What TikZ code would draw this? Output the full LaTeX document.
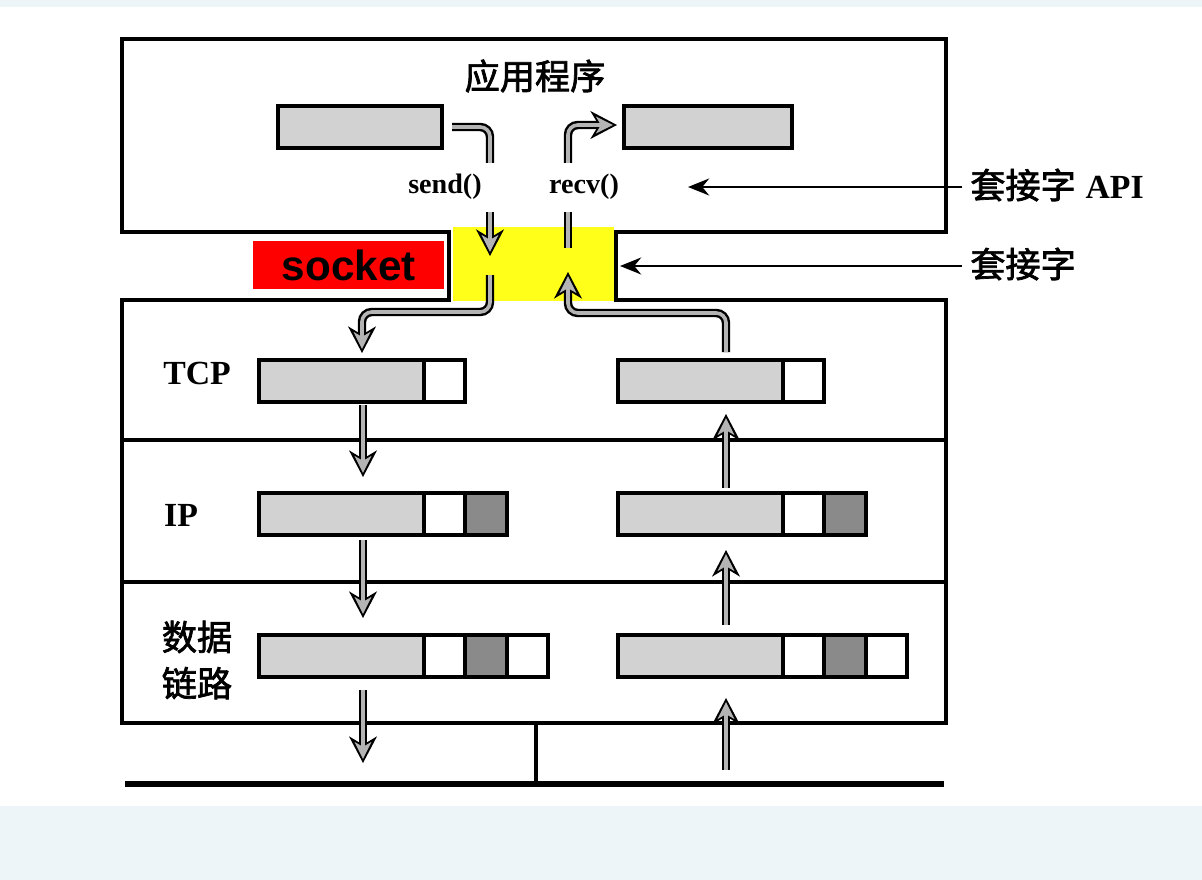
\documentclass[tikz,border=0pt]{standalone}
\usepackage{fontspec}
\setmainfont{Liberation Serif}
\newfontfamily\cjk[FakeBold=2]{Noto Sans CJK SC}
\newfontfamily\arialf{Liberation Sans}
\usetikzlibrary{arrows.meta,calc}
\definecolor{bgblue}{HTML}{EEF5F9}
\definecolor{pktgray}{HTML}{D2D2D2}
\definecolor{pktdark}{HTML}{8A8A8A}
\definecolor{shaftgray}{HTML}{B4B4B4}
\definecolor{sockyellow}{HTML}{FFFF1A}
\definecolor{sockred}{HTML}{FF0000}
\newcommand{\pxu}{0.025cm}
\begin{document}
\begin{tikzpicture}[x=0.025cm,y=-0.025cm,
  wall/.style={line width=2.8pt, line join=miter},
  cell/.style={draw, line width=2.2pt, anchor=north west, inner sep=0pt, outer sep=0pt, minimum height=42*\pxu},
  gcell/.style={cell, fill=pktgray, minimum width=165*\pxu},
  wcell/.style={cell, fill=white, minimum width=41*\pxu},
  dcell/.style={cell, fill=pktdark, minimum width=42*\pxu},
  hollow/.style={draw=shaftgray, line width=2.6pt, rounded corners=7pt,
    preaction={draw=black, line width=6pt}},
  harrow/.style={draw=shaftgray, line width=2.6pt, rounded corners=7pt,
    -{Stealth[length=12pt,width=12pt,inset=3.5pt,line width=0pt]}, shorten >=3pt,
    preaction={draw=black, line width=6pt,
      -{Stealth[length=19pt,width=20pt,inset=6pt,line width=0pt]}, shorten >=0pt}},
  ptr/.style={line width=2pt, -{Stealth[length=15pt,width=12pt]}},
  lbl/.style={font=\bfseries\fontsize{24}{28}\selectfont, inner sep=0pt},
  fnlbl/.style={font=\bfseries\fontsize{20}{24}\selectfont, inner sep=0pt},
  cjklbl/.style={font=\cjk\fontsize{25}{33}\selectfont, align=center, inner sep=0pt},
]
\useasboundingbox (0,0) rectangle (1202,880);
\fill[bgblue] (0,0) rectangle (1202,880);
\fill[white] (0,7) rectangle (1202,806);

% socket channel
\fill[sockyellow] (453,227) rectangle (614,301);
\node[fill=sockred, minimum width=191*\pxu, minimum height=48*\pxu, anchor=north west, inner sep=0pt,
  font=\arialf\bfseries\fontsize{30}{34}\selectfont] (socketlbl) at (253,241) {socket};

% outline of the application box, socket channel and protocol stack
\draw[wall] (449,232) -- (122,232) -- (122,39) -- (946,39) -- (946,232) -- (616,232)
  -- (616,300) -- (946,300) -- (946,723) -- (122,723) -- (122,300) -- (449,300) -- cycle;
\draw[wall] (122,440) -- (946,440);
\draw[wall] (122,582) -- (946,582);

% network
\draw[line width=3.6pt] (125,784) -- (944,784);
\draw[line width=2.2pt] (536,723) -- (536,784);

% application buffers
\node[cell, fill=pktgray, minimum width=164*\pxu] (appL) at (278,106) {};
\node[cell, fill=pktgray, minimum width=168*\pxu] (appR) at (624,106) {};

% TCP packets
\node[gcell] (tcpLg) at (259,360) {};
\node[wcell] (tcpLw) at (tcpLg.north east) {};
\node[gcell] (tcpRg) at (618,360) {};
\node[wcell] (tcpRw) at (tcpRg.north east) {};

% IP packets
\node[gcell] (ipLg) at (259,493) {};
\node[wcell] (ipLw) at (ipLg.north east) {};
\node[dcell] (ipLd) at (ipLw.north east) {};
\node[gcell] (ipRg) at (618,493) {};
\node[wcell] (ipRw) at (ipRg.north east) {};
\node[dcell] (ipRd) at (ipRw.north east) {};

% data link frames
\node[gcell] (dlLg) at (259,635) {};
\node[wcell] (dlLw) at (dlLg.north east) {};
\node[dcell] (dlLd) at (dlLw.north east) {};
\node[wcell] (dlLt) at (dlLd.north east) {};
\node[gcell] (dlRg) at (618,635) {};
\node[wcell] (dlRw) at (dlRg.north east) {};
\node[dcell] (dlRd) at (dlRw.north east) {};
\node[wcell] (dlRt) at (dlRd.north east) {};

% labels
\node[cjklbl] (app) at (535,76) {应用程序};
\node[fnlbl] (send) at (445,187) {send()};
\node[fnlbl] (recv) at (584,187) {recv()};
\node[lbl] (tcp) at (197,373) {TCP};
\node[lbl] (ip) at (181,515) {IP};
\node[cjklbl] (dl) at (197,660) {数据\\链路};
\node[anchor=west, inner sep=0pt] (apilbl) at (970,185) {{\cjk\fontsize{25}{30}\selectfont 套接字}\hspace{7pt}{\bfseries\fontsize{24}{30}\selectfont API}};
\node[anchor=west, inner sep=0pt] (socklbl) at (970,264) {{\cjk\fontsize{25}{30}\selectfont 套接字}};

% pointers
\coordinate (apitip) at (688,187);
\coordinate (socktip) at (620,266);
\draw[ptr] (apilbl.west |- apitip) ++(-8,0) -- (apitip);
\draw[ptr] (socklbl.west |- socktip) ++(-8,0) -- (socktip);

% send path
\coordinate (sendA) at (452,127);
\coordinate (sendB) at (490,163);
\coordinate (sendC) at (490,212);
\coordinate (sendD) at (490,256);
\coordinate (sendE) at (490,275);
\coordinate (tcpin) at (362,353);
\draw[hollow] (sendA) -- (490,127) -- (sendB);
\draw[harrow] (sendC) -- (sendD);
\draw[harrow] (sendE) -- (490,312) -- (362,312) -- (tcpin);

% receive path
\coordinate (tcpout) at (726,352);
\coordinate (recvA) at (568,272);
\coordinate (recvB) at (568,248);
\coordinate (recvC) at (568,212);
\coordinate (recvD) at (568,163);
\coordinate (appin) at (617,125);
\draw[harrow] (tcpout) -- (726,313) -- (568,313) -- (recvA);
\draw[hollow] (recvB) -- (recvC);
\draw[harrow] (recvD) -- (568,125) -- (appin);

% layer-to-layer arrows, sending side
\coordinate (l1a) at (363,405); \coordinate (l1b) at (363,477);
\coordinate (l2a) at (363,540); \coordinate (l2b) at (363,618);
\coordinate (l3a) at (363,690); \coordinate (l3b) at (363,763);
\draw[harrow] (l1a) -- (l1b);
\draw[harrow] (l2a) -- (l2b);
\draw[harrow] (l3a) -- (l3b);

% layer-to-layer arrows, receiving side
\coordinate (r1a) at (726,488); \coordinate (r1b) at (726,414);
\coordinate (r2a) at (726,625); \coordinate (r2b) at (726,550);
\coordinate (r3a) at (726,770); \coordinate (r3b) at (726,698);
\draw[harrow] (r1a) -- (r1b);
\draw[harrow] (r2a) -- (r2b);
\draw[harrow] (r3a) -- (r3b);
\end{tikzpicture}
\end{document}
